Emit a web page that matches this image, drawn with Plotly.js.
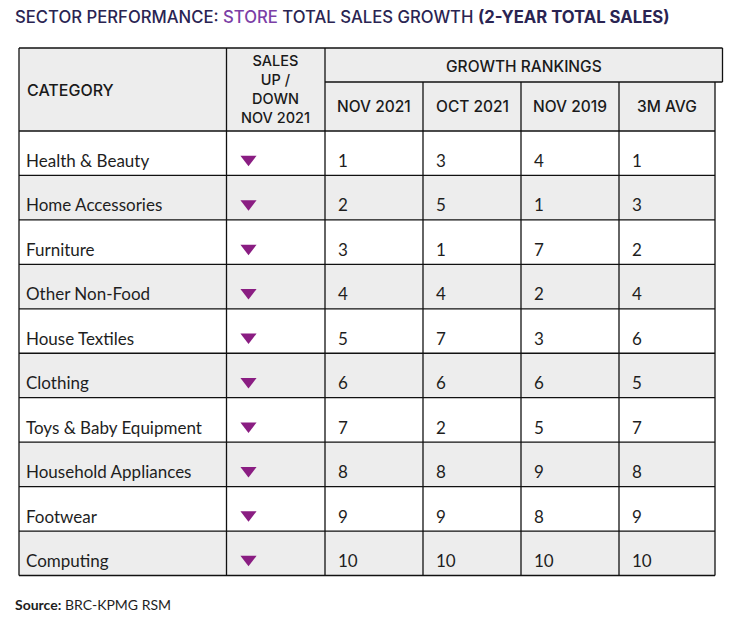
<!DOCTYPE html>
<html>
<head>
<meta charset="utf-8">
<script src="https://cdn.plot.ly/plotly-3.0.1.min.js"></script>
<style>html,body{margin:0;padding:0;background:#fff;}#chart{width:732px;height:620px;}</style>
</head>
<body>
<div id="chart"></div>
<script>
// ---- DATA ----
const categories = ['Health & Beauty','Home Accessories','Furniture','Other Non-Food','House Textiles','Clothing','Toys & Baby Equipment','Household Appliances','Footwear','Computing'];
const salesDirection = ['down','down','down','down','down','down','down','down','down','down'];
const rankNov2021 = [1,2,3,4,5,6,7,8,9,10];
const rankOct2021 = [3,5,1,4,7,6,2,8,9,10];
const rankNov2019 = [4,1,7,2,3,6,5,9,8,10];
const rank3mAvg   = [1,3,2,4,6,5,7,8,9,10];
const rankHeaders = ['NOV 2021','OCT 2021','NOV 2019','3M AVG'];
const categoryHeader = 'CATEGORY';
const salesHeader = 'SALES<br>UP /<br>DOWN<br>NOV 2021';
const groupHeader = 'GROWTH RANKINGS';
const sourceText = '<b>Source:</b> BRC-KPMG RSM';

// ---- LAYOUT GEOMETRY ----
const colEdges = [19, 226.5, 325, 423, 521, 619, 715];
const groupRight = 722.5;
const headTop = 48, subLine = 82, headBottom = 131, tableBottom = 575.5;
const rowH = (tableBottom - headBottom) / categories.length;
const rowTop = i => headBottom + i * rowH;
const textY = i => rowTop(i) + rowH / 2 + 9.5;

const headFont = {family: 'Inter, "Open Sans", sans-serif', size: 15.5, color: '#1a1a1a', weight: 500};
const bodyFont = {family: 'Lato, sans-serif', size: 17, color: '#1e1e1e'};
const gray = '#ededed';
const lineCol = '#111111';
const lw = 1.3;

const shapes = [];
shapes.push({type:'rect', x0:colEdges[0], x1:colEdges[2], y0:headTop, y1:headBottom, fillcolor:gray, line:{width:0}, layer:'below'});
shapes.push({type:'rect', x0:colEdges[2], x1:groupRight, y0:headTop, y1:subLine, fillcolor:gray, line:{width:0}, layer:'below'});
shapes.push({type:'rect', x0:colEdges[2], x1:colEdges[6], y0:subLine, y1:headBottom, fillcolor:gray, line:{width:0}, layer:'below'});
categories.forEach((c, i) => {
  if (i % 2 === 1) shapes.push({type:'rect', x0:colEdges[0], x1:colEdges[6], y0:rowTop(i), y1:rowTop(i+1), fillcolor:gray, line:{width:0}, layer:'below'});
});
const L = (x0,y0,x1,y1) => shapes.push({type:'line', x0, y0, x1, y1, line:{color:lineCol, width:lw}});
L(colEdges[0], headTop, groupRight, headTop);
L(groupRight, headTop, groupRight, subLine);
L(colEdges[2], subLine, groupRight, subLine);
L(colEdges[0], headTop, colEdges[0], tableBottom);
L(colEdges[1], headTop, colEdges[1], tableBottom);
L(colEdges[2], headTop, colEdges[2], tableBottom);
for (let j = 3; j <= 5; j++) L(colEdges[j], subLine, colEdges[j], tableBottom);
L(colEdges[6], subLine, colEdges[6], tableBottom);
for (let i = 0; i <= categories.length; i++) L(colEdges[0], rowTop(i), colEdges[6], rowTop(i));

// ---- TRACES ----
const traces = [];
traces.push({type:'scatter', mode:'text', x:categories.map(() => colEdges[0] + 7), y:categories.map((c,i) => textY(i)),
  text:categories, textposition:'middle right', textfont:bodyFont, hoverinfo:'skip', cliponaxis:false});
traces.push({type:'scatter', mode:'markers', x:salesDirection.map(() => 248.5), y:salesDirection.map((d,i) => textY(i) - 3.5),
  marker:{symbol:salesDirection.map(d => d === 'down' ? 'triangle-down' : 'triangle-up'), size:14, color:'#8a1d82', line:{width:0}},
  hoverinfo:'skip'});
[rankNov2021, rankOct2021, rankNov2019, rank3mAvg].forEach((arr, j) => {
  traces.push({type:'scatter', mode:'text', x:arr.map(() => colEdges[2 + j] + 13), y:arr.map((v,i) => textY(i)),
    text:arr.map(String), textposition:'middle right', textfont:bodyFont, hoverinfo:'skip', cliponaxis:false});
});

// ---- ANNOTATIONS ----
const annotations = [];
annotations.push({x:13, y:17, xref:'x', yref:'y', xanchor:'left', yanchor:'middle', showarrow:false,
  text:"SECTOR PERFORMANCE: <span style='color:#7b3fa6'>STORE</span> TOTAL SALES GROWTH <b>(2-YEAR TOTAL SALES)</b>",
  font:{family:'Inter, sans-serif', size:16.7, color:'#2a2452', weight:500}});
annotations.push({x:colEdges[0] + 6, y:(headTop + headBottom)/2, xref:'x', yref:'y', xanchor:'left', yanchor:'middle', showarrow:false,
  text:categoryHeader, font:Object.assign({}, headFont, {size:16})});
annotations.push({x:(colEdges[1] + colEdges[2])/2, y:(headTop + headBottom)/2 - 1, xref:'x', yref:'y', xanchor:'center', yanchor:'middle', showarrow:false,
  text:salesHeader, align:'center', font:Object.assign({}, headFont, {size:14.5})});
annotations.push({x:(colEdges[2] + groupRight)/2, y:(headTop + subLine)/2 + 1, xref:'x', yref:'y', xanchor:'center', yanchor:'middle', showarrow:false,
  text:groupHeader, font:headFont});
rankHeaders.forEach((h, j) => {
  annotations.push({x:(colEdges[2+j] + colEdges[3+j])/2, y:(subLine + headBottom)/2, xref:'x', yref:'y', xanchor:'center', yanchor:'middle', showarrow:false,
    text:h, font:headFont});
});
annotations.push({x:13, y:604, xref:'x', yref:'y', xanchor:'left', yanchor:'middle', showarrow:false,
  text:sourceText, font:{family:'Lato, sans-serif', size:14, color:'#1e1e1e'}});

const layout = {
  width:732, height:620, margin:{l:0, r:0, t:0, b:0},
  paper_bgcolor:'#ffffff', plot_bgcolor:'#ffffff',
  xaxis:{range:[0,732], visible:false, fixedrange:true},
  yaxis:{range:[620,0], visible:false, fixedrange:true},
  showlegend:false, hovermode:false,
  shapes, annotations
};
Plotly.newPlot('chart', traces, layout, {displayModeBar:false, staticPlot:true});
</script>
</body>
</html>
